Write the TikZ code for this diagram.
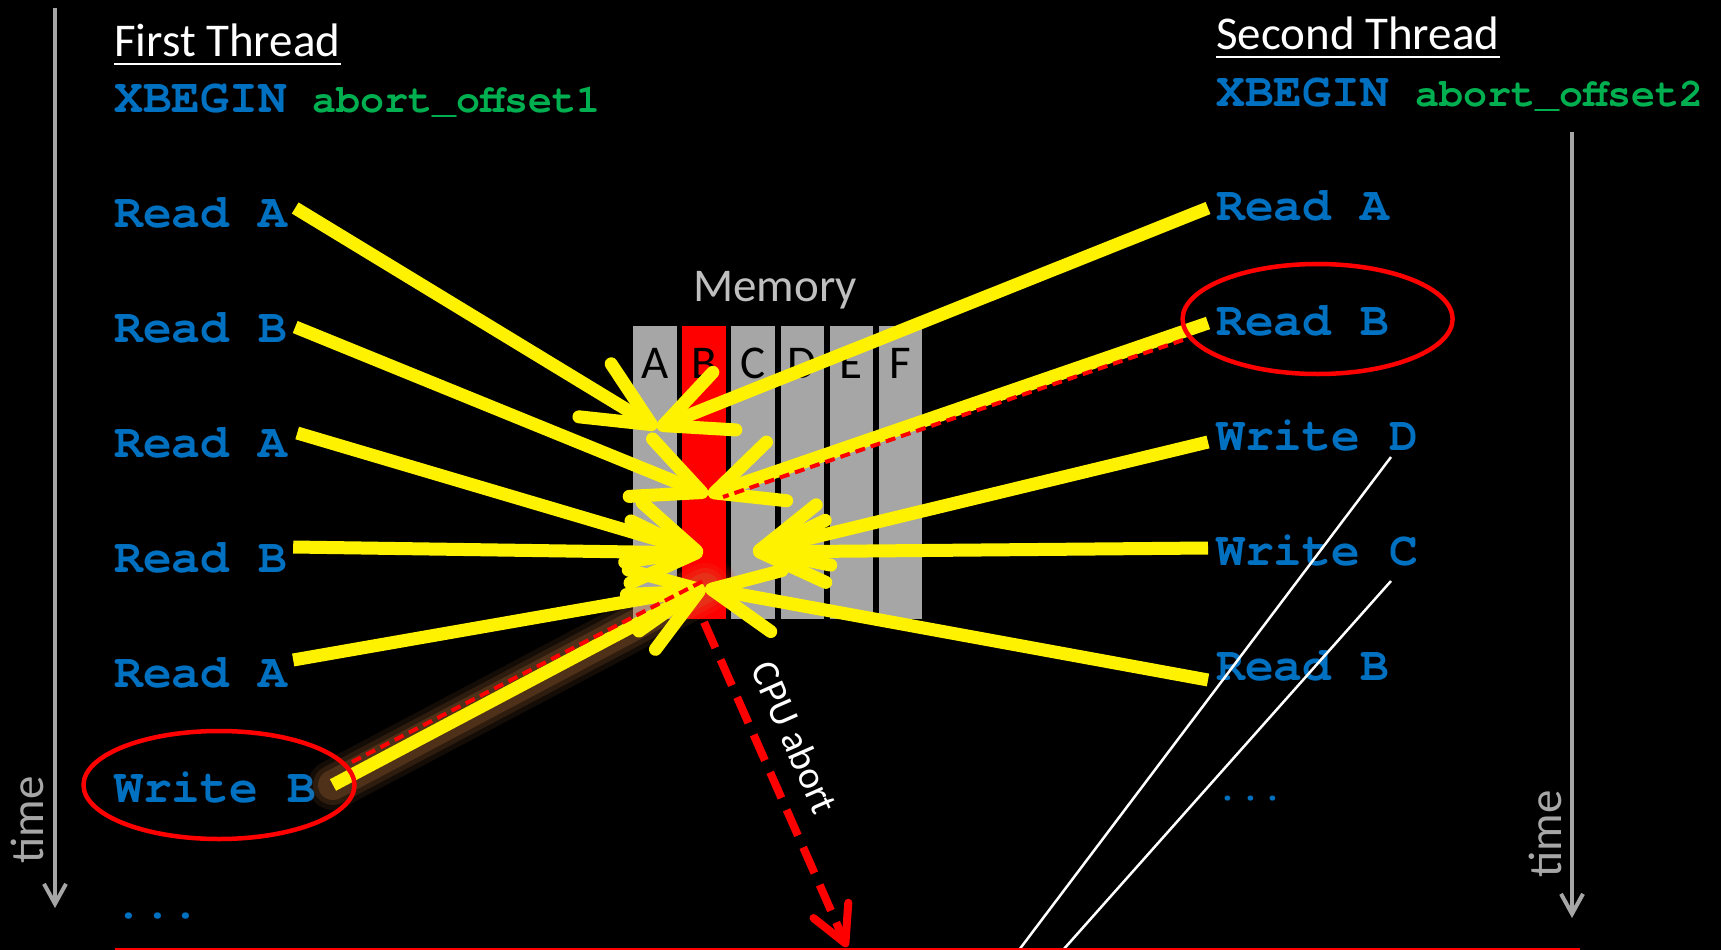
\documentclass[tikz,border=0pt]{standalone}
\usepackage{fontspec}
\setmainfont{Carlito}
\newfontfamily\codefont{texgyrecursor}[Extension=.otf, UprightFont=*-regular, BoldFont=*-bold]
\usetikzlibrary{arrows.meta, fadings}
\definecolor{opblue}{HTML}{0070C0}
\definecolor{offgreen}{HTML}{00B050}
\definecolor{cellgray}{HTML}{A6A6A6}
\definecolor{memgray}{HTML}{BFBFBF}
\definecolor{glowbrown}{RGB}{200,120,60}
\tikzfading[name=tipfade, inner color=transparent!0, outer color=transparent!100]

\begin{document}
\begin{tikzpicture}[x=1pt, y=-1pt, line join=round,
	op/.style={anchor=base west, inner sep=0pt, text=opblue, font=\codefont\bfseries\fontsize{48}{50}\selectfont},
	off/.style={anchor=base west, inner sep=0pt, text=offgreen, font=\codefont\bfseries\fontsize{40}{42}\selectfont},
	title/.style={anchor=base west, inner sep=0pt, text=white, font=\fontsize{47}{50}\selectfont},
	cell/.style={minimum width=43.5pt, minimum height=293pt, inner sep=0pt},
	hit/.style={yellow, line width=13pt, line cap=butt, -{Straight Barb[length=66pt, width=62pt, round]}},
	tracer/.style={red, line width=4pt, line cap=butt, dash pattern=on 10pt off 6pt},
	ring/.style={red, line width=4.5pt},
	timeline/.style={cellgray, line width=4pt, line cap=butt, -{Straight Barb[length=20pt, width=22pt]}},
	timelabel/.style={inner sep=0pt, text=cellgray, font=\fontsize{47}{50}\selectfont}
]
\useasboundingbox (0,0) rectangle (1721,950);
\fill[black] (0,0) rectangle (1721,950);

% first thread
\node[title] (ft) at (114,57) {First Thread};
\draw[white, line width=2.7pt] ([yshift=-7pt]ft.base west) -- ([yshift=-7pt]ft.base east);
\node[op] (xb1) at (114,112) {XBEGIN};
\node[off] (ab1) at (312,112) {abort\_offset1};
\foreach \t [count=\i] in {Read A,Read B,Read A,Read B,Read A,Write B}
	\node[op] (l\i) at (114,{112+115*\i}) {\t};
\node[op] (ldots) at (114,918) {...};

% second thread
\node[title] (st) at (1216,50) {Second Thread};
\draw[white, line width=2.7pt] ([yshift=-7pt]st.base west) -- ([yshift=-7pt]st.base east);
\node[op] (xb2) at (1216,106) {XBEGIN};
\node[off] (ab2) at (1415,106) {abort\_offset2};
\foreach \t [count=\i] in {Read A,Read B,Write D,Write C,Read B}
	\node[op] (r\i) at (1216,{105+115*\i}) {\t};
\node[op, font=\codefont\bfseries\fontsize{38}{40}\selectfont] (rdots) at (1216,800) {...};

% memory
\node[anchor=base, inner sep=0pt, text=memgray, font=\fontsize{47}{50}\selectfont] (mem) at (775,301) {Memory};
\foreach \l/\c [count=\i from 0] in {A/cellgray,B/red,C/cellgray,D/cellgray,E/cellgray,F/cellgray}{
	\node[cell, fill=\c] (c\l) at ({655+49.1*\i},472.5) {};
	\node[anchor=base, inner sep=0pt, font=\fontsize{47}{50}\selectfont] (t\l) at ({655+49.1*\i},378) {\l};
}
\coordinate (hitA) at (657,428);
\coordinate (hitB) at (708,495);
\coordinate (hitL) at (703,553);
\coordinate (hitR) at (753,552);
\coordinate (hitLow) at (705,588);

% glow of the conflicting write
\fill[red, path fading=tipfade] (hitLow) circle (34pt);
\foreach \w/\o in {50/0.10,40/0.15,30/0.22}
	\draw[glowbrown, line width=\w pt, opacity=\o, line cap=round] ([shift={(17,-17)}]l6.base east) -- (hitLow);

% accesses
\foreach \i/\dx/\dy/\h in {1/8/-19/hitA,2/8/-15/hitB,3/10/-24/hitL,4/6/-25/hitL,5/6/-27/hitLow,6/17/-17/hitLow}
	\draw[hit] ([shift={(\dx,\dy)}]l\i.base east) -- (\h);
\foreach \i/\dy/\h in {1/-12/hitA,2/-12/hitB,3/-8/hitR,4/-17/hitR,5/0/hitLow}
	\draw[hit] ([shift={(-8,\dy)}]r\i.base west) -- (\h);

\draw[tracer] ([shift={(-33,5)}]r2.base west) -- ([shift={(15,2)}]hitB);
\draw[tracer] ([shift={(36,-40)}]l6.base east) -- ([shift={(2,-9)}]hitLow);

% abort
\coordinate (abortEnd) at (847,947);
\draw[red, line width=8pt, line cap=butt, dash pattern=on 28pt off 13pt, -{Straight Barb[length=36pt, width=38pt, round]}]
	([yshift=-3pt]cB.south) -- (abortEnd)
	node[pos=0.4, sloped, above=19pt, inner sep=0pt, text=white, font=\fontsize{39}{42}\selectfont] (cpu) {CPU abort};

\draw[ring] ([shift={(4,-17)}]l6.base) ellipse (135.5 and 54);
\draw[ring] ([shift={(15,-16)}]r2.base) ellipse (135 and 55);

% white lines
\coordinate (floorD) at (1019,950);
\coordinate (floorC) at (1063,950);
\draw[white, line width=2.5pt] ([shift={(-27,7)}]r3.base east) -- (floorD);
\draw[white, line width=2.5pt] ([shift={(-27,16)}]r4.base east) -- (floorC);

\draw[red, line width=2pt] (115,949) -- (1580,949);

% time axes
\draw[timeline] (55,8) -- (55,908);
\node[timelabel, rotate=90] (time1) at (27,820) {time};
\draw[timeline] (1572,132) -- (1572,918);
\node[timelabel, rotate=90] (time2) at (1545,834) {time};
\end{tikzpicture}
\end{document}
